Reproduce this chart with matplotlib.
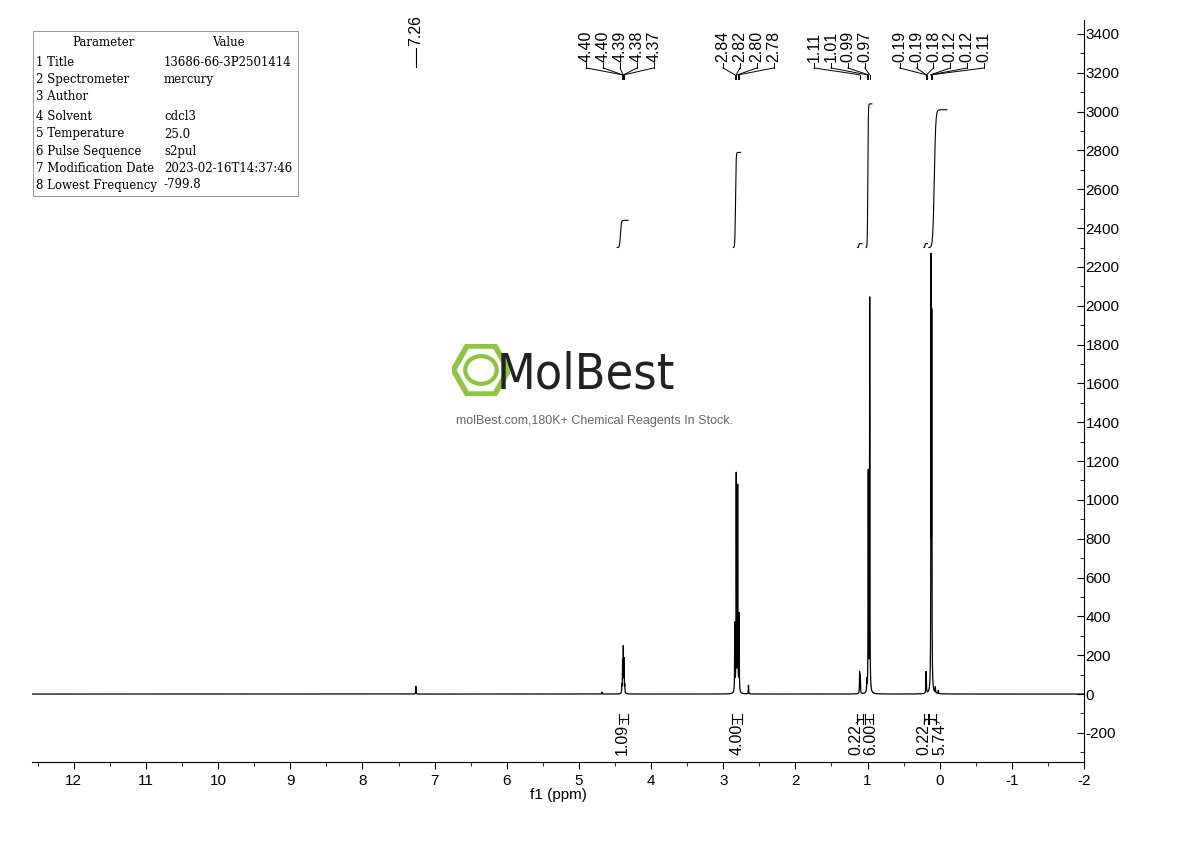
import numpy as np
import matplotlib.pyplot as plt
from matplotlib.patches import RegularPolygon, Ellipse

plt.rcParams['font.family'] = ['Liberation Sans', 'DejaVu Sans']
plt.rcParams['axes.unicode_minus'] = False

# peak list (ppm, height)
peak_ppm = [7.26, 4.405, 4.395, 4.385, 4.375, 4.365,
            2.84, 2.82, 2.80, 2.78, 2.65,
            1.11, 1.10, 1.01, 0.99, 0.97,
            0.19, 0.185, 0.12, 0.11, 0.06, 0.02, 4.68]
peak_h = [40, 40, 160, 230, 170, 40,
          350, 1120, 1060, 400, 45,
          110, 90, 60, 1130, 2030,
          100, 60, 2160, 1860, 30, 15, 10]

# peak label groups and where the label fans are centred (ppm)
label_groups = [[4.40, 4.40, 4.39, 4.38, 4.37], [2.84, 2.82, 2.80, 2.78],
                [1.11, 1.01, 0.99, 0.97], [0.19, 0.19, 0.18, 0.12, 0.12, 0.11]]
label_centres = [4.43, 2.65, 1.39, -0.03]
single_label = 7.26

integ_ranges = [(4.45, 4.32), (2.88, 2.74), (1.14, 1.06), (1.04, 0.92), (0.22, 0.16), (0.15, 0.05)]
integ_vals = ["1.09", "4.00", "0.22", "6.00", "0.22", "5.74"]
integ_text_x = [4.40, 2.81, 1.16, 0.96, 0.22, 0.0]
integ_curves = [(4.47, 4.32, 2300, 2440), (2.86, 2.76, 2300, 2790),
                (1.14, 1.08, 2300, 2320), (1.02, 0.94, 2300, 3040),
                (0.22, 0.17, 2300, 2320), (0.15, -0.10, 2300, 3010)]

params = [("1", "Title", "13686-66-3P2501414"), ("2", "Spectrometer", "mercury"),
          ("3", "Author", ""), ("4", "Solvent", "cdcl3"), ("5", "Temperature", "25.0"),
          ("6", "Pulse Sequence", "s2pul"), ("7", "Modification Date", "2023-02-16T14:37:46"),
          ("8", "Lowest Frequency", "-799.8")]

fig = plt.figure(figsize=(11.9, 8.41), dpi=100)
ax = fig.add_axes([32 / 1190, 79 / 841, 1052 / 1190, 742 / 841])

x = np.linspace(12.6, -2.0, 40000)
y = np.zeros_like(x)
w = 0.0025
for p, h in zip(peak_ppm, peak_h):
    y += h * w**2 / ((x - p)**2 + w**2)
ax.plot(x, y, color='black', lw=0.9)

# integral curves
for a, b, y0, y1 in integ_curves:
    xs = np.linspace(a, b, 200)
    t = (a - xs) / (a - b)
    s = 1 / (1 + np.exp(-(t - 0.3) * 25))
    s = (s - s[0]) / (s[-1] - s[0])
    ax.plot(xs, y0 + (y1 - y0) * s, color='black', lw=0.8)

# integration brackets
for (a, b), v, tx in zip(integ_ranges, integ_vals, integ_text_x):
    ax.plot([a, b], [-130, -130], color='black', lw=0.8)
    ax.plot([a, a], [-105, -155], color='black', lw=0.8)
    ax.plot([b, b], [-105, -155], color='black', lw=0.8)
    ax.plot([(a + b) / 2, tx], [-130, -150], color='black', lw=0.6)
    ax.text(tx, -155, v, rotation=90, ha='center', va='top', fontsize=11.5)

# peak labels
sp = 0.234
ax.plot([single_label, single_label], [3230, 3330], color='black', lw=0.8)
ax.text(single_label, 3340, f"{single_label:.2f}", rotation=90, ha='center',
        va='bottom', fontsize=11.5)
for grp, c in zip(label_groups, label_centres):
    n = len(grp)
    for i, v in enumerate(grp):
        lx = c + (n - 1) / 2 * sp - i * sp
        ax.plot([lx, lx], [3250, 3225], color='black', lw=0.7)
        ax.plot([lx, v], [3225, 3190], color='black', lw=0.7)
        ax.plot([v, v], [3190, 3170], color='black', lw=0.7)
        ax.text(lx, 3255, f"{v:.2f}", rotation=90, ha='center', va='bottom', fontsize=11.5)

ax.set_xlim(12.58, -2.0)
ax.set_ylim(-350, 3472)
ax.set_xticks(range(12, -3, -1))
ax.set_xticks(np.arange(12.5, -2.0, -0.5), minor=True)
ax.set_xticklabels([str(i) for i in range(12, -3, -1)])
ax.set_xlabel("f1 (ppm)", fontsize=11, labelpad=0)
ax.yaxis.tick_right()
ax.set_yticks(range(-200, 3401, 200))
ax.set_yticks(range(-300, 3401, 100), minor=True)
for s in ['top', 'left']:
    ax.spines[s].set_visible(False)
ax.tick_params(axis='y', direction='in', labelsize=11, pad=1, length=5)
ax.tick_params(axis='y', which='minor', direction='in', length=3)
ax.tick_params(axis='x', labelsize=11, length=5)
ax.tick_params(axis='x', which='minor', length=3)

# parameter table
tab = plt.Rectangle((33 / 1190, 1 - 196 / 841), 265 / 1190, 165 / 841,
                    transform=fig.transFigure, fill=False, lw=0.6, ec='#888888')
fig.add_artist(tab)
fnt = dict(family='DejaVu Serif', fontsize=8.5, transform=fig.transFigure, va='center')
fig.text(104 / 1190, 1 - 42 / 841, "Parameter", ha='center', **fnt)
fig.text(228 / 1190, 1 - 42 / 841, "Value", ha='center', **fnt)
rows_y = [62, 79, 96, 117, 134, 151, 168, 185]
for (n, k, v), ry in zip(params, rows_y):
    fig.text(36 / 1190, 1 - ry / 841, n + " " + k, **fnt)
    fig.text(164 / 1190, 1 - ry / 841, v, **fnt)

# watermark
lax = fig.add_axes([452 / 1190, 1 - 396 / 841, 58 / 1190, 52 / 841])
lax.set_xlim(-1.15, 1.15)
lax.set_ylim(-1.03, 1.03)
lax.axis('off')
lax.add_patch(RegularPolygon((0, 0), 6, radius=1.1, orientation=np.pi / 6,
                             fill=False, ec='#8cc63f', lw=4))
lax.add_patch(Ellipse((0, 0), 1.25, 1.1, fill=False, ec='#8cc63f', lw=3))
fig.text(586 / 1190, 1 - 375 / 841, "MolBest", color='#222222', fontsize=36,
         ha='center', va='center', family='DejaVu Sans', fontstretch='condensed')
fig.text(594 / 1190, 1 - 421 / 841, "molBest.com,180K+ Chemical Reagents In Stock.",
         color='#666666', fontsize=9, ha='center', va='center')

fig.savefig("out.png", dpi=100)
